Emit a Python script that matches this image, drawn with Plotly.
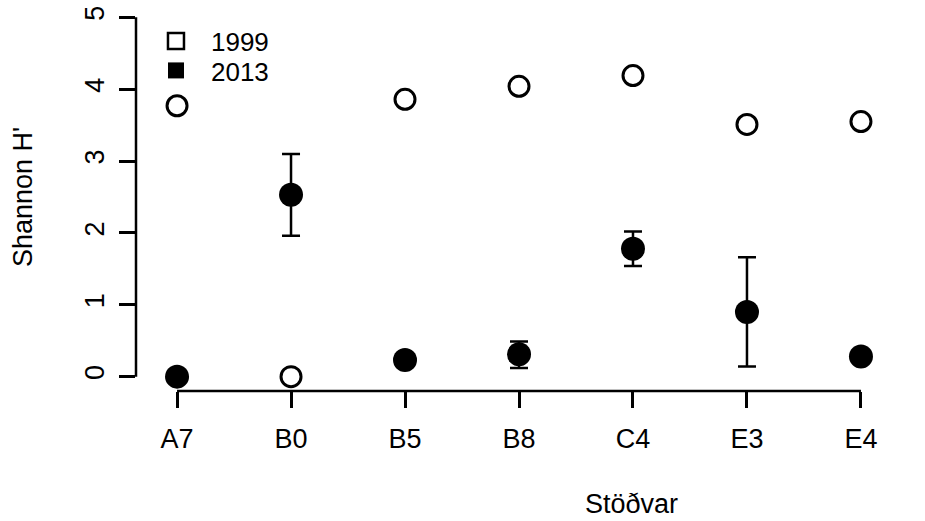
import plotly.graph_objects as go

stations = ["A7", "B0", "B5", "B8", "C4", "E3", "E4"]
h1999 = [3.77, 0.00, 3.86, 4.04, 4.19, 3.51, 3.55]
h2013 = [0.00, 2.53, 0.23, 0.31, 1.78, 0.90, 0.28]
err_up = [0.0, 0.57, 0.0, 0.18, 0.24, 0.76, 0.0]
err_down = [0.0, 0.57, 0.0, 0.19, 0.24, 0.76, 0.0]
y_ticks = [0, 1, 2, 3, 4, 5]

xpos = list(range(1, len(stations) + 1))
FONT = "Liberation Sans, Arial, sans-serif"
FS = 27

fig = go.Figure()

fig.add_trace(go.Scatter(
    x=xpos, y=h1999, mode="markers", showlegend=False,
    marker=dict(symbol="circle-open", size=20, color="black", line=dict(width=3, color="black")),
))
fig.add_trace(go.Scatter(
    x=xpos, y=h2013, mode="markers", showlegend=False,
    marker=dict(symbol="circle", size=24, color="black"),
    error_y=dict(type="data", symmetric=False, array=err_up, arrayminus=err_down,
                 color="black", thickness=2.5, width=9),
))
# legend-only entries (square symbols as in the original)
fig.add_trace(go.Scatter(
    x=[None], y=[None], mode="markers", name="1999", legend="legend",
    marker=dict(symbol="square-open", size=18, color="black", line=dict(width=2.5, color="black")),
))
fig.add_trace(go.Scatter(
    x=[None], y=[None], mode="markers", name="2013", legend="legend2",
    marker=dict(symbol="square", size=18, color="black"),
))

# R-style axis lines spanning first to last tick
fig.add_shape(type="line", xref="x", yref="paper", x0=xpos[0], x1=xpos[-1], y0=0, y1=0,
              line=dict(color="black", width=2.5))
fig.add_shape(type="line", xref="paper", yref="y", x0=0, x1=0, y0=y_ticks[0], y1=y_ticks[-1],
              line=dict(color="black", width=2.5))

fig.add_annotation(text="Stöðvar", xref="paper", yref="paper", x=0.6475, y=-0.29,
                   xanchor="center", yanchor="middle", showarrow=False,
                   font=dict(size=FS))
fig.add_annotation(text="Shannon H'", xref="paper", yref="paper", x=-0.1475, y=0.5,
                   xanchor="center", yanchor="middle", textangle=-90, showarrow=False,
                   font=dict(size=FS))

leg_common = dict(xanchor="left", yanchor="middle", font=dict(size=26),
                  bgcolor="rgba(0,0,0,0)", itemsizing="trace", itemwidth=60)
fig.update_layout(
    width=925, height=521,
    margin=dict(l=136, r=23, t=3, b=130),
    paper_bgcolor="white", plot_bgcolor="white",
    font=dict(family=FONT, size=FS, color="black"),
    legend=dict(x=0.0065, y=0.902, **leg_common),
    legend2=dict(x=0.0065, y=0.826, **leg_common),
    xaxis=dict(range=[0.64, 7.36], tickmode="array", tickvals=xpos, ticktext=stations,
               showgrid=False, zeroline=False, showline=False,
               ticks="outside", ticklen=16, tickwidth=2.5, tickcolor="black",
               ticklabelstandoff=8, tickfont=dict(size=FS)),
    yaxis=dict(range=[-0.2, 5.2], tickmode="array", tickvals=y_ticks,
               showgrid=False, zeroline=False, showline=False,
               ticks="outside", ticklen=16, tickwidth=2.5, tickcolor="black",
               ticklabelstandoff=4, tickangle=-90, tickfont=dict(size=FS)),
)

fig.write_html("out.html", config={"displayModeBar": False},
               post_script="document.body.style.margin='0';")
